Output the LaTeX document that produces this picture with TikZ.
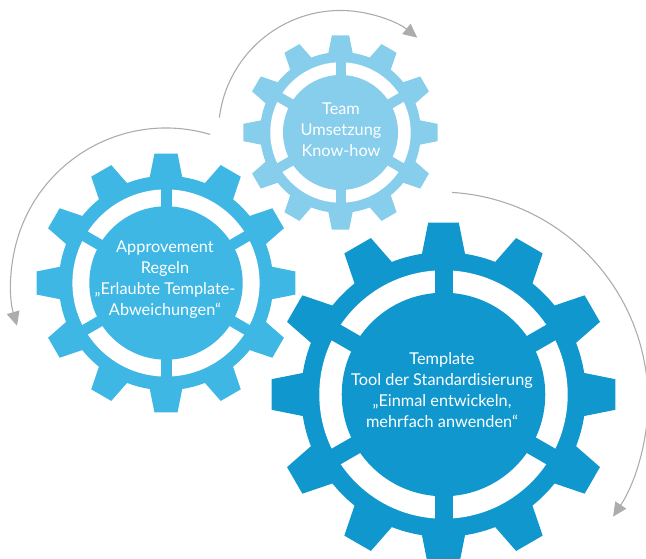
\documentclass[tikz,border=0pt]{standalone}
\usepackage{fontspec}
\setmainfont{Lato}
\usetikzlibrary{arrows.meta}
\definecolor{gearA}{RGB}{135,206,237}
\definecolor{gearB}{RGB}{62,183,228}
\definecolor{gearC}{RGB}{16,152,206}
\definecolor{arrowgray}{RGB}{172,172,172}
\tikzset{
  gtext/.style={text=white, align=center, font=\fontsize{16.3}{21}\selectfont, inner sep=0pt},
  turn/.style={draw=arrowgray, line width=1.1pt, -{Triangle[length=14pt,width=13pt]}},
}
\newcommand{\mygear}[5]{%
  \begin{scope}[shift={(#1,#2)}]
    \pgfmathsetmacro{\R}{#3}
    \pgfmathsetmacro{\rr}{0.825*#3}
    \pgfmathsetmacro{\ro}{0.72*#3}
    \pgfmathsetmacro{\ri}{0.59*#3}
    \def\tb{8.7}
    \def\tt{5.1}
    \fill[#4] ({90-\tb}:\rr)
      \foreach \a in {90,120,...,420}{
        -- ({\a-\tb}:\rr) -- ({\a-\tt}:\R) -- ({\a+\tt}:\R) -- ({\a+\tb}:\rr)
        arc[start angle={\a+\tb}, end angle={\a+30-\tb}, radius=\rr]
      } -- cycle;
    \fill[white] (0,0) circle[radius=\ro];
    \fill[#4] (0,0) circle[radius=\ri];
    \foreach \a in {90,150,...,450}{
      \draw[#4, line width=#5pt] ({\a}:{0.5*\R}) -- ({\a}:{0.74*\R});
    }
  \end{scope}%
}
\begin{document}
\begin{tikzpicture}[x=1pt,y=1pt]
  \useasboundingbox (0,0) rectangle (646,-559);
  \clip (0,0) rectangle (646,-559);
  % arcs
  \coordinate (cA) at (340.5,-132.5);
  \coordinate (cB) at (166,-283);
  \coordinate (cC) at (439,-401);
  \draw[turn] (cA) ++(173:122) arc[start angle=173, end angle=51, radius=122];
  \draw[turn] (cB) ++(73.4:155) arc[start angle=73.4, end angle=196, radius=155];
  \draw[turn] (cC) ++(86.4:209) arc[start angle=86.4, end angle=-33.6, radius=209];
  % gears
  \mygear{340.5}{-132.5}{97.5}{gearA}{10}
  \mygear{166}{-283}{130}{gearB}{11}
  \mygear{443.5}{-394.5}{172.5}{gearC}{18}
  % texts
  \node[gtext] (tA) at (341,-130) {Team\\Umsetzung\\Know-how};
  \node[gtext] (tB) at (165,-280) {Approvement\\Regeln\\„Erlaubte Template-\\Abweichungen“};
  \node[gtext] (tC) at (442,-390) {Template\\Tool der Standardisierung\\„Einmal entwickeln,\\mehrfach anwenden“};
\end{tikzpicture}
\end{document}
